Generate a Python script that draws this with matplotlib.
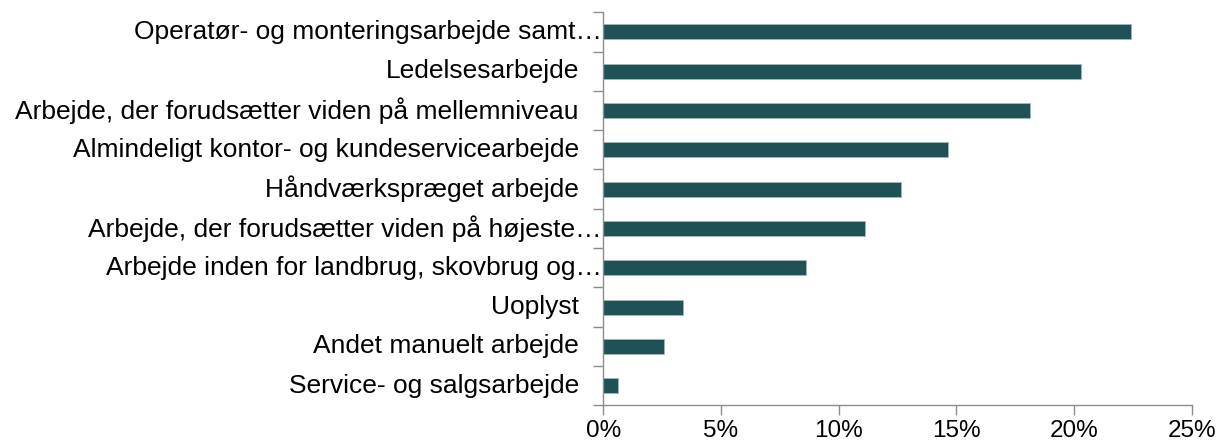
import matplotlib
matplotlib.use("Agg")
import matplotlib.pyplot as plt
from matplotlib.ticker import FuncFormatter, FixedLocator
from matplotlib.transforms import blended_transform_factory, offset_copy

plt.rcParams['font.family'] = ['Liberation Sans', 'DejaVu Sans']

# Kategorier (øverst -> nederst) og andele i procent
categories = [
    "Operatør- og monteringsarbejde samt…",
    "Ledelsesarbejde",
    "Arbejde, der forudsætter viden på mellemniveau",
    "Almindeligt kontor- og kundeservicearbejde",
    "Håndværkspræget arbejde",
    "Arbejde, der forudsætter viden på højeste…",
    "Arbejde inden for landbrug, skovbrug og…",
    "Uoplyst",
    "Andet manuelt arbejde",
    "Service- og salgsarbejde",
]
values = [22.4, 20.27, 18.14, 14.65, 12.64, 11.10, 8.62, 3.38, 2.58, 0.63]
x_ticks = [0, 5, 10, 15, 20, 25]

bar_color = "#1f5157"
axis_grey = "#8c8c8c"

fig = plt.figure(figsize=(12.2, 4.46), dpi=100)
ax = fig.add_axes([0.4945, 0.0913, 0.4825, 0.8811])

n = len(categories)
ypos = list(range(n))
ax.barh(ypos, values, height=0.38, color=bar_color,
        edgecolor="#9fb6b9", linewidth=0.7)

ax.set_xlim(0, 25)
ax.set_ylim(n - 0.5, -0.5)
ax.xaxis.set_major_locator(FixedLocator(x_ticks))
ax.xaxis.set_major_formatter(FuncFormatter(lambda v, p: f"{v:.0f}%"))
ax.tick_params(axis="x", direction="out", length=7, width=1.0,
               color=axis_grey, labelsize=17.5, pad=3.5)

# y-akse: streger mellem kategorierne, ingen tekst på selve tickene
ax.set_yticks([i - 0.5 for i in range(n + 1)])
ax.set_yticklabels([])
ax.tick_params(axis="y", direction="out", length=7, width=1.0, color=axis_grey)

for s in ["top", "right"]:
    ax.spines[s].set_visible(False)
for s in ["left", "bottom"]:
    ax.spines[s].set_color(axis_grey)
    ax.spines[s].set_linewidth(1.0)

# kategori-tekster; afkortede tekster går helt ind til aksen
trans = blended_transform_factory(ax.transAxes, ax.transData)
for i, lab in enumerate(categories):
    dx = -1 if lab.endswith("…") else -17.5
    t = offset_copy(trans, fig=fig, x=dx, y=0, units="points")
    ax.text(0, i, lab, transform=t, ha="right", va="center",
            fontsize=19, color="black")

fig.savefig("out.png", dpi=100)
